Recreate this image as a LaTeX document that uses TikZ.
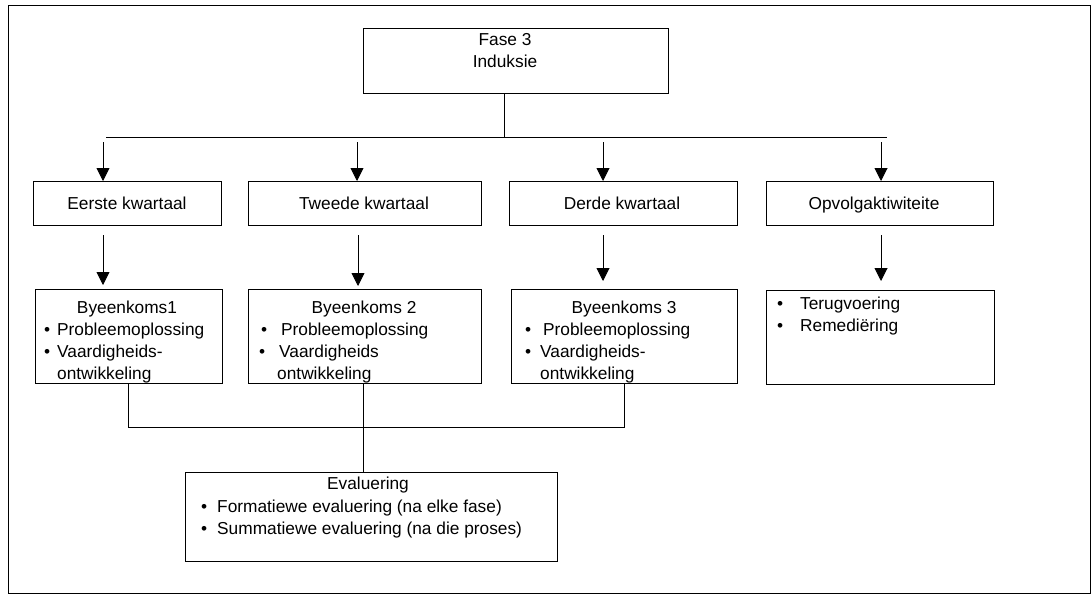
\documentclass[tikz,border=0pt]{standalone}
\usepackage{fontspec}
\setmainfont{Liberation Sans}
\usetikzlibrary{arrows.meta}
% bullet hung to the left of a line, #1 = gap between bullet and text (pt)
\newcommand\hangbul[1]{\llap{\textbullet\hspace{#1pt}}}
\begin{document}
\begin{tikzpicture}[x=1pt,y=-1pt,
  box/.style={draw,line width=0.9pt,inner sep=0pt,anchor=north west},
  lbl/.style={inner sep=0pt,font=\fontsize{17.3}{20}\selectfont},
  ctr/.style={lbl,anchor=base},
  lft/.style={lbl,anchor=base west},
  link/.style={line width=0.9pt},
  arr/.style={link,-{Triangle[width=13pt,length=13pt]}}]

\useasboundingbox (0,0) rectangle (1091,595);
\fill[white] (0,0) rectangle (1091,595);
\draw[link] (8,5) rectangle (1090,593);

% phase box
\node[box,minimum width=305pt,minimum height=65pt] (top) at (363,28) {};
\node[ctr] (topa) at (505,45) {Fase 3};
\node[ctr] (topb) at (505,67) {Induksie};

% quarters
\node[box,minimum width=188pt,minimum height=44pt] (e1) at (33,181) {};
\node[box,minimum width=233pt,minimum height=44pt] (e2) at (248,181) {};
\node[box,minimum width=228pt,minimum height=44pt] (e3) at (509,181) {};
\node[box,minimum width=227pt,minimum height=44pt] (e4) at (766,181) {};
\node[ctr] (e1t) at (127,209) {Eerste kwartaal};
\node[ctr] (e2t) at (364,209) {Tweede kwartaal};
\node[ctr] (e3t) at (622,209) {Derde kwartaal};
\node[ctr] (e4t) at (874,209) {Opvolgaktiwiteite};

% meetings
\node[box,minimum width=187pt,minimum height=94pt] (b1) at (35,289) {};
\node[ctr] (b1h) at (127,313) {Byeenkoms1};
\node[lft] (b1a) at (57,335) {\hangbul{7}Probleemoplossing};
\node[lft] (b1b) at (57,357) {\hangbul{7}Vaardigheids-};
\node[lft] (b1c) at (57,379) {ontwikkeling};

\node[box,minimum width=233pt,minimum height=94pt] (b2) at (248,289) {};
\node[ctr] (b2h) at (364,313) {Byeenkoms 2};
\node[lft] (b2a) at (281,335) {\hangbul{14}Probleemoplossing};
\node[lft] (b2b) at (279,357) {\hangbul{14}Vaardigheids};
\node[lft] (b2c) at (277,379) {ontwikkeling};

\node[box,minimum width=226pt,minimum height=94pt] (b3) at (511,289) {};
\node[ctr] (b3h) at (624,313) {Byeenkoms 3};
\node[lft] (b3a) at (543,335) {\hangbul{12}Probleemoplossing};
\node[lft] (b3b) at (540,357) {\hangbul{9}Vaardigheids-};
\node[lft] (b3c) at (540,379) {ontwikkeling};

\node[box,minimum width=228pt,minimum height=94pt] (b4) at (766,290) {};
\node[lft] (b4a) at (800,309) {\hangbul{17}Terugvoering};
\node[lft] (b4b) at (800,331) {\hangbul{17}Remediëring};

% evaluation
\node[box,minimum width=372pt,minimum height=89pt] (ev) at (185,472) {};
\node[ctr] (evh) at (368,489) {Evaluering};
\node[lft] (eva) at (217,512) {\hangbul{10}Formatiewe evaluering (na elke fase)};
\node[lft] (evb) at (217,534) {\hangbul{10}Summatiewe evaluering (na die proses)};

% distribution bar under the phase box
\coordinate (hub) at (504,137);
\coordinate (hl) at (106,137);
\coordinate (hr) at (887,137);
\draw[link] (hub |- top.south) -- (hub);
\draw[link] (hl) -- (hr);

% arrows into the quarters
\coordinate (t1) at (103,142);
\coordinate (t2) at (357,142);
\coordinate (t3) at (603,142);
\coordinate (t4) at (881,142);
\draw[arr] (t1) -- (t1 |- e1.north);
\draw[arr] (t2) -- (t2 |- e2.north);
\draw[arr] (t3) -- (t3 |- e3.north);
\draw[arr] (t4) -- (t4 |- e4.north);

% arrows into the meetings
\coordinate (s1) at (103,235);
\coordinate (s2) at (358,235);
\coordinate (s3) at (603,235);
\coordinate (s4) at (881,235);
\draw[arr,shorten >=4pt] (s1) -- (s1 |- b1.north);
\draw[arr,shorten >=3pt] (s2) -- (s2 |- b2.north);
\draw[arr,shorten >=8pt] (s3) -- (s3 |- b3.north);
\draw[arr,shorten >=9pt] (s4) -- (s4 |- b4.north);

% meetings joined and led to the evaluation
\coordinate (j1) at (128,427);
\coordinate (j2) at (363,427);
\coordinate (j3) at (624,427);
\draw[link] (j1 |- b1.south) -- (j1) -- (j3) -- (j3 |- b3.south);
\draw[link] (j2 |- b2.south) -- (j2 |- ev.north);
\end{tikzpicture}
\end{document}
